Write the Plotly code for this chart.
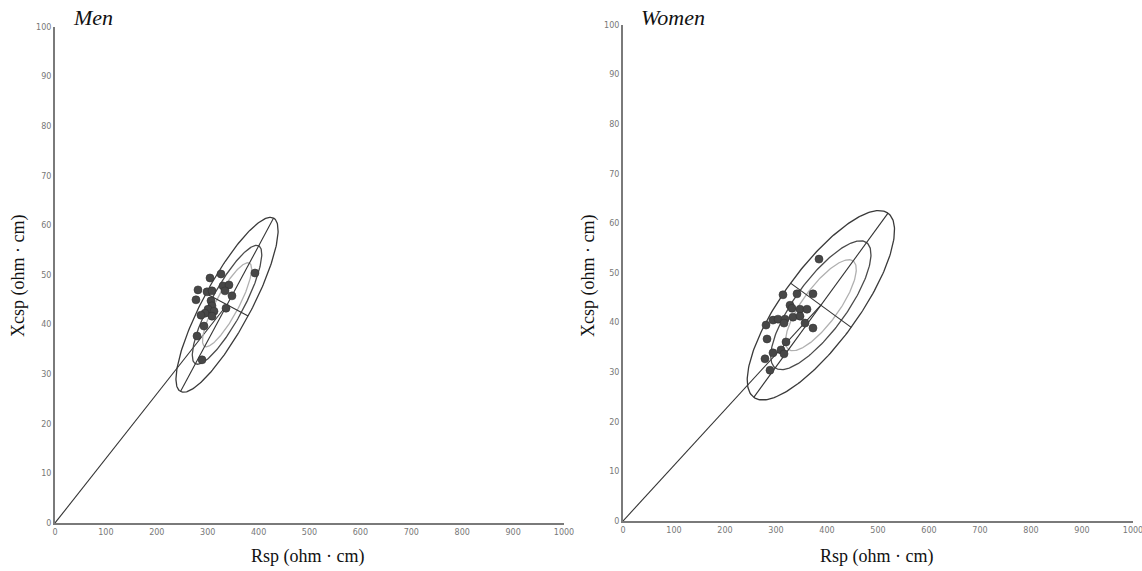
import numpy as np
import plotly.graph_objects as go

# ---------------- data ----------------
x_ticks = list(range(0, 1001, 100))
y_ticks = list(range(0, 101, 10))

men_rsp = [304.5, 326.1, 392.9, 280.9, 298.6, 308.4, 330.1, 341.8, 334.0, 277.0, 347.7,
           306.5, 308.4, 300.6, 312.4, 336.0, 294.7, 286.8, 308.4, 292.7, 279.0, 288.8]
men_xcsp = [49.4, 50.2, 50.4, 47.0, 46.6, 46.8, 47.8, 48.0, 46.8, 45.0, 45.8,
            44.8, 43.8, 43.1, 42.7, 43.3, 42.3, 41.9, 41.7, 39.7, 37.7, 32.9]

women_rsp = [384.3, 313.7, 341.2, 372.5, 327.5, 331.4, 347.1, 360.8, 294.1, 303.9, 317.6,
             333.3, 347.1, 315.7, 280.4, 356.9, 372.5, 282.4, 319.6, 294.1, 309.8, 315.7,
             278.4, 288.2]
women_xcsp = [52.8, 45.6, 45.8, 45.8, 43.5, 42.9, 42.7, 42.7, 40.5, 40.7, 40.7,
              41.1, 41.3, 39.9, 39.5, 39.9, 38.9, 36.7, 36.1, 33.9, 34.5, 33.7,
              32.7, 30.4]

# reference population (tolerance ellipses): mean R, mean Xc, SD R, SD Xc, correlation
men_ref = [338.0, 44.0, 41.0, 7.2, 0.85]
women_ref = [388.0, 43.5, 59.0, 7.8, 0.79]
tolerance_levels = [0.50, 0.75, 0.95]
level_colors = ["#b0b0b0", "#4a4a4a", "#3a3a3a"]

panel_titles = ["Men", "Women"]
x_title = "Rsp (ohm · cm)"
y_title = "Xcsp (ohm · cm)"

# ---------------- layout ----------------
W, H = 1142, 571
men_dom_px = (55, 564, 27, 523)      # left, right, top, bottom
women_dom_px = (623, 1133, 25, 521)


def dom(px):
    l, r, t, b = px
    return [l / W, r / W], [1 - b / H, 1 - t / H]


def ellipse_geom(ref, p, k, n=240):
    mr, mx, sr, sx, rho = ref
    c = np.sqrt(-2.0 * np.log(1.0 - p))
    cov = np.array([[(k * sr) ** 2, rho * k * sr * sx], [rho * k * sr * sx, sx ** 2]])
    w, V = np.linalg.eigh(cov)
    t = np.linspace(0, 2 * np.pi, n)
    u = k * mr + c * (np.sqrt(w[1]) * np.cos(t) * V[0, 1] + np.sqrt(w[0]) * np.sin(t) * V[0, 0])
    v = mx + c * (np.sqrt(w[1]) * np.cos(t) * V[1, 1] + np.sqrt(w[0]) * np.sin(t) * V[1, 0])
    major = (k * mr + np.array([-1, 1]) * c * np.sqrt(w[1]) * V[0, 1],
             mx + np.array([-1, 1]) * c * np.sqrt(w[1]) * V[1, 1])
    minor = (k * mr + np.array([-1, 1]) * c * np.sqrt(w[0]) * V[0, 0],
             mx + np.array([-1, 1]) * c * np.sqrt(w[0]) * V[1, 0])
    return (u / k, v), (major[0] / k, major[1]), (minor[0] / k, minor[1])


fig = go.Figure()
panels = [
    (men_rsp, men_xcsp, men_ref, men_dom_px, "x", "y"),
    (women_rsp, women_xcsp, women_ref, women_dom_px, "x2", "y2"),
]

for rs, xs, ref, dpx, xa, ya in panels:
    l, r, t, b = dpx
    k = ((r - l) / 1000.0) / ((b - t) / 100.0)
    # origin line to the mean vector
    fig.add_trace(go.Scatter(x=[0, ref[0]], y=[0, ref[1]], mode="lines",
                             line=dict(color="#333", width=1.1), xaxis=xa, yaxis=ya,
                             showlegend=False, hoverinfo="skip", cliponaxis=False))
    for p, col in zip(tolerance_levels, level_colors):
        (ex, ey), major, minor = ellipse_geom(ref, p, k)
        fig.add_trace(go.Scatter(x=ex, y=ey, mode="lines", line=dict(color=col, width=1.3),
                                 xaxis=xa, yaxis=ya, showlegend=False, hoverinfo="skip"))
        if p == tolerance_levels[-1]:
            for seg in (major, minor):
                fig.add_trace(go.Scatter(x=seg[0], y=seg[1], mode="lines",
                                         line=dict(color="#333", width=1.1),
                                         xaxis=xa, yaxis=ya, showlegend=False,
                                         hoverinfo="skip"))
    fig.add_trace(go.Scatter(x=rs, y=xs, mode="markers",
                             marker=dict(size=8, color="#474747",
                                         line=dict(color="#333", width=0.6)),
                             xaxis=xa, yaxis=ya, showlegend=False))

axis_common = dict(range=[0, 1000], tickvals=x_ticks, showgrid=False, zeroline=False,
                   showline=True, linecolor="#7a7a7a", linewidth=2, ticks="",
                   automargin=False, ticklabeloverflow="allow",
                   tickfont=dict(family="DejaVu Sans", size=8, color="#777"))
yaxis_common = dict(range=[0, 100], tickvals=y_ticks, showgrid=False, zeroline=False,
                    showline=True, linecolor="#7a7a7a", linewidth=2, ticks="",
                    automargin=False, ticklabeloverflow="allow",
                    tickfont=dict(family="DejaVu Sans", size=8, color="#777"))

mx_dom, my_dom = dom(men_dom_px)
wx_dom, wy_dom = dom(women_dom_px)

fig.update_layout(
    width=W, height=H, margin=dict(l=0, r=0, t=0, b=0, autoexpand=False),
    paper_bgcolor="white", plot_bgcolor="white",
    xaxis=dict(domain=mx_dom, anchor="y", **axis_common),
    yaxis=dict(domain=my_dom, anchor="x", **yaxis_common),
    xaxis2=dict(domain=wx_dom, anchor="y2", **axis_common),
    yaxis2=dict(domain=wy_dom, anchor="x2", **yaxis_common),
)

serif = "Liberation Serif"
ann = []
for title, dpx, x_c, y_c_px in [(panel_titles[0], men_dom_px, 307, 18),
                                (panel_titles[1], women_dom_px, 876, 18)]:
    ann.append(dict(text="<i>" + title + "</i>", x=(dpx[0] + 16) / W, y=1 - y_c_px / H,
                    xref="paper", yref="paper", xanchor="left", yanchor="middle",
                    showarrow=False, font=dict(family=serif, size=22, color="#111")))
    ann.append(dict(text=x_title, x=x_c / W, y=1 - 556 / H, xref="paper", yref="paper",
                    xanchor="center", yanchor="middle", showarrow=False,
                    font=dict(family=serif, size=18, color="#111")))
ann.append(dict(text=y_title, x=18 / W, y=1 - 276 / H, xref="paper", yref="paper",
                xanchor="center", yanchor="middle", textangle=-90, showarrow=False,
                font=dict(family=serif, size=18, color="#111")))
ann.append(dict(text=y_title, x=588 / W, y=1 - 276 / H, xref="paper", yref="paper",
                xanchor="center", yanchor="middle", textangle=-90, showarrow=False,
                font=dict(family=serif, size=18, color="#111")))
fig.update_layout(annotations=ann)

fig.write_html("out.html", config={"displayModeBar": False},
               post_script="document.body.style.margin='0';"
                           "document.body.style.overflow='hidden';")
